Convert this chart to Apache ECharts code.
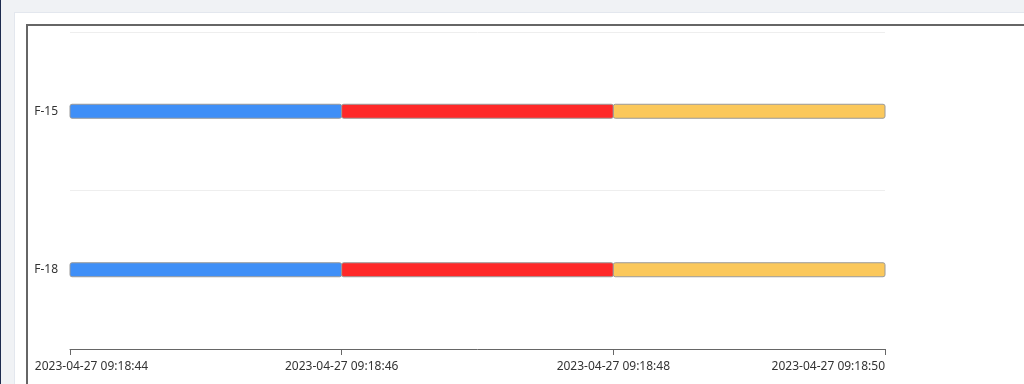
<!DOCTYPE html>
<html>
<head>
<meta charset="utf-8">
<script src="https://cdn.jsdelivr.net/npm/echarts@6/dist/echarts.min.js"></script>
<style>
  html, body { margin: 0; padding: 0; width: 1024px; height: 384px; overflow: hidden; background: #f0f2f5; }
  #nav { position: absolute; left: 0; top: 0; width: 1px; height: 384px; background: #1d2b4f; }
  #card { position: absolute; left: 14px; top: 12px; width: 1100px; height: 500px; background: #fff; border: 1px solid #e3e7ee; box-sizing: border-box; }
  #box { position: absolute; left: 26px; top: 24px; width: 1100px; height: 500px; background: #fff; border-left: 2px solid #666; border-top: 2px solid #666; box-sizing: border-box; }
  #chart { position: absolute; left: 28px; top: 26px; width: 996px; height: 358px; }
</style>
</head>
<body>
<div id="nav"></div>
<div id="card"></div>
<div id="box"></div>
<div id="chart"></div>
<script>
const categories = ['F-15', 'F-18'];
const segmentStartSec = [44, 46, 48];
const segmentEndSec = [46, 48, 50];
const segmentColors = ['#3f8ff7', '#ff2828', '#fbc85b'];
const axisMinSec = 44;
const axisMaxSec = 50;
const tickIntervalSec = 2;

const base = Date.UTC(2023, 3, 27, 9, 18, 0);
const t = s => base + s * 1000;

const data = [];
categories.forEach((c, ci) => {
  segmentStartSec.forEach((s, si) => {
    data.push({ value: [ci, t(s), t(segmentEndSec[si]), si] });
  });
});

function pad(n) { return (n < 10 ? '0' : '') + n; }
function fmt(v) {
  const d = new Date(v);
  return d.getUTCFullYear() + '-' + pad(d.getUTCMonth() + 1) + '-' + pad(d.getUTCDate()) + ' ' +
    pad(d.getUTCHours()) + ':' + pad(d.getUTCMinutes()) + ':' + pad(d.getUTCSeconds());
}

function renderItem(params, api) {
  const cat = api.value(0);
  const p0 = api.coord([api.value(1), cat]);
  const p1 = api.coord([api.value(2), cat]);
  const h = 14;
  return {
    type: 'rect',
    shape: { x: p0[0], y: p0[1] - h / 2, width: p1[0] - p0[0], height: h, r: 2 },
    style: { fill: segmentColors[api.value(3)], stroke: '#9a9a9a', lineWidth: 1 }
  };
}

const chart = echarts.init(document.getElementById('chart'));
chart.setOption({
  animation: false,
  textStyle: { fontFamily: 'Noto Sans' },
  grid: { left: 42, right: 139, top: 6, bottom: 35, containLabel: false, outerBoundsMode: 'none' },
  xAxis: {
    type: 'value',
    min: t(axisMinSec),
    max: t(axisMaxSec),
    interval: tickIntervalSec * 1000,
    axisLine: { show: true, lineStyle: { color: '#666' } },
    axisTick: { show: true, length: 6, lineStyle: { color: '#666' } },
    splitLine: { show: false },
    axisLabel: {
      color: '#333',
      fontSize: 12,
      fontFamily: 'Noto Sans',
      margin: 12,
      alignMaxLabel: 'right',
      formatter: function (v) {
        if (v === t(axisMinSec)) return '{first|' + fmt(v) + '}';
        return fmt(v);
      },
      rich: {
        first: { color: '#333', fontSize: 12, fontFamily: 'Noto Sans', padding: [0, 0, 0, 43] }
      }
    }
  },
  yAxis: {
    type: 'category',
    data: categories,
    inverse: true,
    axisLine: { show: false },
    axisTick: { show: false },
    splitLine: { show: true, lineStyle: { color: '#eeeeee' } },
    axisLabel: { color: '#333', fontSize: 12, fontFamily: 'Noto Sans', margin: 12 }
  },
  series: [{
    type: 'custom',
    renderItem: renderItem,
    encode: { x: [1, 2], y: 0 },
    data: data
  }]
});
</script>
</body>
</html>
